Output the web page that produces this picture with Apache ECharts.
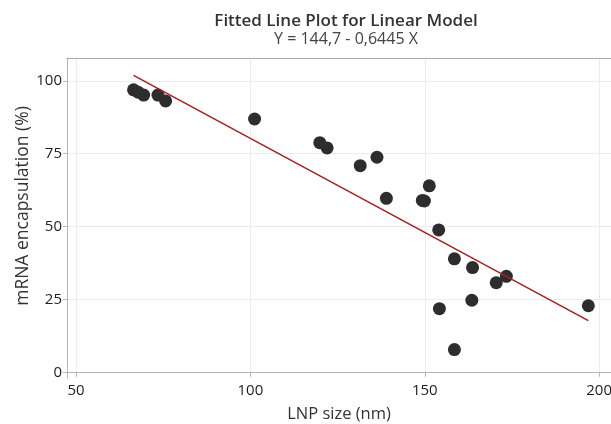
<!DOCTYPE html>
<html>
<head>
<meta charset="utf-8">
<script src="https://cdn.jsdelivr.net/npm/echarts@6/dist/echarts.min.js"></script>
<style>
html,body{margin:0;padding:0;background:#fff;}
#chart{width:611px;height:424px;}
</style>
</head>
<body>
<div id="chart"></div>
<script>
// LNP size (nm)
const lnpSize = [66.5, 67.8, 69.4, 73.5, 75.7, 101.2, 119.9, 122.0, 131.5, 136.3, 139.0, 149.3, 149.9, 151.3, 154.0, 154.2, 158.5, 158.5, 163.5, 163.7, 170.5, 173.4, 196.9];
// mRNA encapsulation (%)
const encapsulation = [96.9, 96.1, 95.1, 95.1, 93.1, 86.9, 78.8, 77.0, 70.9, 73.8, 59.7, 59.0, 58.8, 64.0, 48.9, 21.9, 39.0, 7.9, 24.8, 36.0, 30.8, 33.0, 22.9];
// Fitted model Y = 144.7 - 0.6445 X
const fitIntercept = 144.7;
const fitSlope = -0.6445;
const xTicks = [50, 100, 150, 200];
const yTicks = [0, 25, 50, 75, 100];

const points = lnpSize.map((x, i) => [x, encapsulation[i]]);
const xMin = Math.min(...lnpSize), xMax = Math.max(...lnpSize);
const fitLine = [[xMin, fitIntercept + fitSlope * xMin], [xMax, fitIntercept + fitSlope * xMax]];

const font = '"Open Sans", "Noto Sans", sans-serif';
const chart = echarts.init(document.getElementById('chart'), null, {renderer: 'canvas'});
chart.setOption({
  backgroundColor: '#fff',
  animation: false,
  title: {
    text: 'Fitted Line Plot for Linear Model',
    subtext: 'Y = 144,7 - 0,6445 X',
    left: 341,
    textAlign: 'center',
    top: 8,
    itemGap: 1,
    textStyle: {fontFamily: font, fontSize: 17, fontWeight: 600, color: '#333'},
    subtextStyle: {fontFamily: font, fontSize: 16, fontWeight: 'normal', color: '#444'}
  },
  grid: {left: 67, right: 0, top: 58, bottom: 46, containLabel: false, outerBoundsMode: 'none'},
  xAxis: [{
    type: 'value',
    min: 47.42, max: 203.4,
    name: 'LNP size (nm)',
    nameLocation: 'middle',
    nameGap: 28,
    nameTextStyle: {fontFamily: font, fontSize: 16.5, color: '#333'},
    axisLine: {show: true, lineStyle: {color: '#b5b5b5', width: 1}},
    axisTick: {show: true, length: 4, lineStyle: {color: '#b5b5b5'}, customValues: xTicks},
    axisLabel: {customValues: xTicks, fontFamily: font, fontSize: 15, color: '#1e1e1e', margin: 5},
    splitLine: {show: true, lineStyle: {color: '#ececec', width: 1}}
  }, {
    type: 'value', position: 'top', min: 47.42, max: 203.4,
    axisLine: {show: true, lineStyle: {color: '#aaaaaa', width: 1}},
    axisTick: {show: false}, axisLabel: {show: false}, splitLine: {show: false}
  }],
  yAxis: {
    type: 'value',
    min: -1.85, max: 107.8,
    name: 'mRNA encapsulation (%)',
    nameLocation: 'middle',
    nameGap: 35,
    nameMoveOverlap: false,
    nameTextStyle: {fontFamily: font, fontSize: 17.5, color: '#333', padding: [0, 0, 0, 24]},
    axisLine: {show: true, lineStyle: {color: '#b5b5b5', width: 1}},
    axisTick: {show: true, length: 4, lineStyle: {color: '#b5b5b5'}, customValues: yTicks},
    axisLabel: {customValues: yTicks, fontFamily: font, fontSize: 15, color: '#1e1e1e', margin: 5},
    splitLine: {show: true, lineStyle: {color: '#ececec', width: 1}}
  },
  series: [{
    type: 'line',
    data: fitLine,
    symbol: 'none',
    lineStyle: {color: '#a3201f', width: 1.5},
    z: 3
  }, {
    type: 'scatter',
    data: points,
    symbolSize: 13,
    itemStyle: {color: '#2d2d2d', opacity: 1},
    z: 2
  }]
});
</script>
</body>
</html>
